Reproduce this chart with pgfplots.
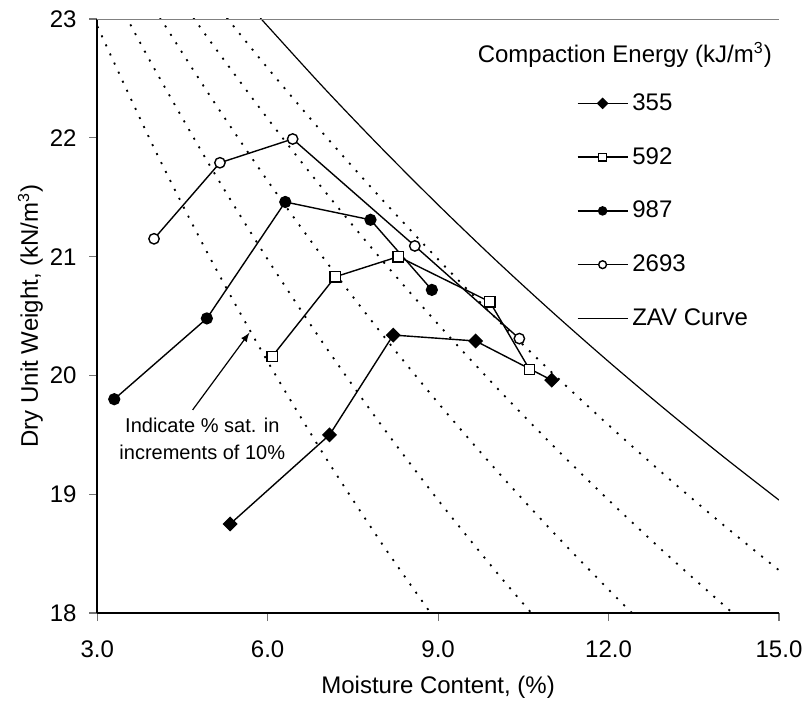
\documentclass[border=0pt]{standalone}
\usepackage{fontspec}
\setmainfont{Liberation Sans}
\usepackage{pgfplots}
\pgfplotsset{compat=1.18}
\begin{document}
\begin{tikzpicture}
\begin{axis}[
  scale only axis,
  width=340.85pt, height=297pt,
  xmin=3, xmax=15, ymin=18, ymax=23,
  xtick={3,6,9,12,15}, ytick={18,19,20,21,22,23},
  /pgf/number format/assume math mode=true,
  tick label style={font=\fontsize{12}{14}\selectfont},
  xticklabel style={yshift=-6.5pt, /pgf/number format/.cd,fixed,fixed zerofill,precision=1},
  yticklabel style={xshift=-2.8pt},
  label style={font=\fontsize{12}{14}\selectfont},
  tick align=outside, xtick pos=bottom, ytick pos=left,
  major tick length=4pt,
  tick style={black!55, line width=0.6pt},
  axis x line*=bottom, axis y line*=left,
  axis line style={black, line width=0.8pt, -},
  xlabel={Moisture Content, (\%)},
  ylabel={Dry Unit Weight, (kN/m\textsuperscript{3})},
  xlabel style={at={(axis description cs:0.5,-0.125)}, anchor=center},
  ylabel style={at={(axis description cs:-0.098,0.5)}, anchor=center},
  legend cell align=left,
  legend style={draw=none, fill=none, font=\fontsize{12}{14}\selectfont,
    at={(rel axis cs:0.703,0.882)}, anchor=north west, inner sep=0pt, row sep=13pt},
  legend image code/.code={
    \draw[#1] (0pt,0pt) -- (25pt,0pt);
    \draw[#1, only marks, every mark/.append style={scale=0.75}] plot coordinates {(12.5pt,0pt)};
  },
]
% saturation lines (dotted), S = 90, 80, 70, 60, 50 %
\addplot[forget plot, smooth, black, line width=0.9pt, dash pattern=on 1pt off 4pt] coordinates {(5.28,23.011) (6,22.587) (7,22.024) (8,21.488) (9,20.977) (10,20.490) (11,20.026) (12,19.582) (13,19.157) (14,18.750) (15,18.360)};
\addplot[forget plot, smooth, black, line width=0.9pt, dash pattern=on 1pt off 4pt] coordinates {(4.69,23.014) (5,22.806) (6,22.162) (7,21.553) (8,20.977) (9,20.431) (10,19.913) (11,19.420) (12,18.951) (13,18.504) (14,18.078) (14.2,17.995)};
\addplot[forget plot, smooth, black, line width=0.9pt, dash pattern=on 1pt off 4pt] coordinates {(4.1,23.016) (5,22.342) (6,21.638) (7,20.977) (8,20.356) (9,19.769) (10,19.216) (11,18.693) (12,18.198) (12.45,17.983)};
\addplot[forget plot, smooth, black, line width=0.9pt, dash pattern=on 1pt off 4pt] coordinates {(3.5,23.029) (4,22.587) (5,21.752) (6,20.977) (7,20.255) (8,19.582) (9,18.951) (10,18.360) (10.7,17.968)};
\addplot[forget plot, smooth, black, line width=0.9pt, dash pattern=on 1pt off 4pt] coordinates {(2.93,23.015) (4,21.915) (5,20.977) (6,20.117) (7,19.324) (8,18.592) (8.9,17.979)};
% series
\addplot[black, line width=0.7pt, mark=square*, mark size=2.3pt, mark options={rotate=45, fill=black}] coordinates {(5.34,18.75) (7.09,19.50) (8.21,20.34) (9.66,20.29) (11.00,19.96)};
\addlegendentry{355}
\addplot[black, line width=0.7pt, mark=square*, mark size=2.6pt, mark options={fill=white}] coordinates {(6.08,20.16) (7.19,20.83) (8.30,21.00) (9.91,20.62) (10.61,20.05)};
\addlegendentry{592}
\addplot[black, line width=0.7pt, mark=*, mark size=2.7pt, mark options={fill=black}] coordinates {(3.30,19.80) (4.93,20.48) (6.31,21.46) (7.81,21.31) (8.89,20.72)};
\addlegendentry{987}
\addplot[black, line width=0.7pt, mark=*, mark size=2.6pt, mark options={fill=white}] coordinates {(4.00,21.15) (5.16,21.79) (6.44,21.99) (8.59,21.09) (10.43,20.31)};
\addlegendentry{2693}
\addplot[black, line width=0.6pt, smooth, mark=none] coordinates {(5.87,23.01) (6,22.940) (7,22.415) (8,21.915) (9,21.436) (10,20.977) (11,20.538) (12,20.117) (13,19.713) (14,19.324) (15,18.951)};
\addlegendentry{ZAV Curve}
\draw[gray, line width=0.4pt] (rel axis cs:0,1) -- (rel axis cs:1,1) -- (rel axis cs:1,0);
\node[anchor=east, font=\fontsize{12}{14}\selectfont, inner sep=0pt] at (axis cs:14.88,22.70) {Compaction Energy (kJ/m\textsuperscript{3})};
\draw[-latex, black, line width=0.6pt] (axis cs:4.68,19.71) -- (axis cs:5.68,20.36);
\node[align=center, font=\fontsize{10}{13.5}\selectfont, inner sep=0pt] at (axis cs:4.85,19.47) {Indicate \% sat. in\\increments of 10\%};
\end{axis}
\pgfresetboundingbox
\path ([xshift=-48.6pt,yshift=-43.5pt]current axis.south west) rectangle ([xshift=13pt,yshift=9.5pt]current axis.north east);
\end{tikzpicture}
\end{document}
